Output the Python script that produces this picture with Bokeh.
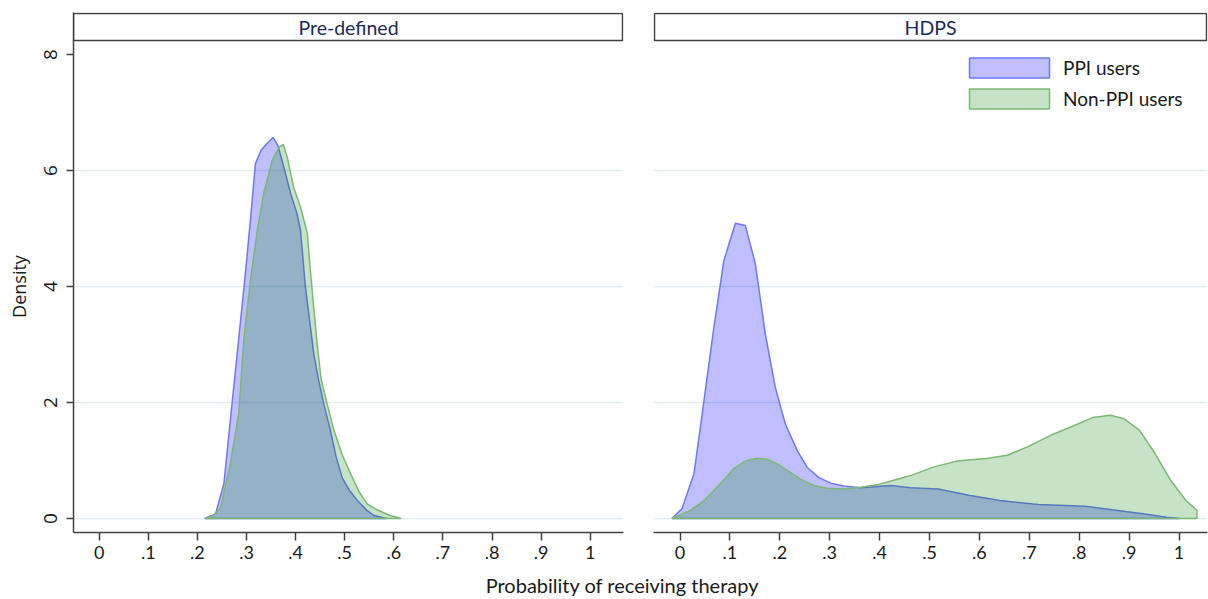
import math
from bokeh.plotting import figure
from bokeh.layouts import row, column
from bokeh.models import FixedTicker, Label, Legend, LegendItem, Range1d
from bokeh.embed import file_html
from bokeh.resources import INLINE

# ---------------- data ----------------
panels = ["Pre-defined", "HDPS"]
series = ["PPI users", "Non-PPI users"]
x_title = "Probability of receiving therapy"
y_title = "Density"
x_ticks = [0, 0.1, 0.2, 0.3, 0.4, 0.5, 0.6, 0.7, 0.8, 0.9, 1]
x_tick_labels = ["0", ".1", ".2", ".3", ".4", ".5", ".6", ".7", ".8", ".9", "1"]
y_ticks = [0, 2, 4, 6, 8]
grid_ticks = [0, 2, 4, 6]

pre_ppi_x = [0.215, 0.237, 0.254, 0.267, 0.281, 0.295, 0.308, 0.318, 0.329, 0.342, 0.354,
             0.364, 0.376, 0.390, 0.403, 0.410, 0.420, 0.437, 0.447, 0.458, 0.471, 0.482,
             0.495, 0.510, 0.527, 0.545, 0.560, 0.585]
pre_ppi_y = [0.0, 0.08, 0.6, 1.69, 2.84, 3.99, 5.14, 6.11, 6.34, 6.47, 6.57,
             6.43, 6.06, 5.6, 5.25, 4.97, 3.99, 2.84, 2.38, 1.95, 1.52, 1.08,
             0.7, 0.48, 0.3, 0.14, 0.05, 0.0]

pre_non_x = [0.216, 0.233, 0.247, 0.267, 0.284, 0.295, 0.308, 0.322, 0.335, 0.352, 0.366,
             0.375, 0.383, 0.396, 0.410, 0.424, 0.430, 0.444, 0.452, 0.465, 0.478, 0.495,
             0.512, 0.530, 0.546, 0.566, 0.590, 0.615]
pre_non_y = [0.0, 0.05, 0.19, 0.94, 1.8, 3.13, 4.10, 4.97, 5.6, 6.17, 6.40,
             6.45, 6.23, 5.71, 5.37, 4.91, 4.28, 3.0, 2.4, 1.95, 1.52, 1.1,
             0.77, 0.45, 0.25, 0.15, 0.06, 0.0]

hdps_ppi_x = [-0.016, 0.004, 0.028, 0.048, 0.068, 0.088, 0.111, 0.131, 0.151, 0.171, 0.191,
              0.211, 0.235, 0.255, 0.278, 0.302, 0.328, 0.362, 0.423, 0.462, 0.517, 0.579,
              0.641, 0.718, 0.812, 0.866, 0.928, 0.975, 1.0]
hdps_ppi_y = [0.0, 0.17, 0.77, 2.03, 3.30, 4.45, 5.09, 5.05, 4.39, 3.18, 2.26,
              1.63, 1.17, 0.88, 0.71, 0.61, 0.56, 0.53, 0.57, 0.53, 0.51, 0.40,
              0.31, 0.24, 0.21, 0.15, 0.08, 0.02, 0.0]

hdps_non_x = [-0.016, 0.021, 0.048, 0.081, 0.108, 0.131, 0.155, 0.175, 0.195, 0.215, 0.241,
              0.268, 0.295, 0.328, 0.362, 0.395, 0.416, 0.462, 0.509, 0.556, 0.618, 0.656,
              0.695, 0.742, 0.789, 0.827, 0.863, 0.890, 0.921, 0.952, 0.983, 1.014, 1.036]
hdps_non_y = [0.0, 0.14, 0.31, 0.60, 0.86, 0.99, 1.04, 1.02, 0.94, 0.83, 0.68,
              0.57, 0.52, 0.51, 0.54, 0.58, 0.63, 0.74, 0.89, 0.99, 1.04, 1.09,
              1.23, 1.43, 1.60, 1.74, 1.78, 1.72, 1.52, 1.12, 0.66, 0.31, 0.14]

panel_data = [
    [(pre_ppi_x, pre_ppi_y), (pre_non_x, pre_non_y)],
    [(hdps_ppi_x, hdps_ppi_y), (hdps_non_x, hdps_non_y)],
]

# ---------------- styles ----------------
FONT = "Lato"
YFONT = "Open Sans"
AXIS_COLOR = "#404040"
GRID_COLOR = "#e0edf0"
HEAD_COLOR = "#1f2a52"
TEXT_COLOR = "#1a1a1a"
fills = [("#0000ff", 0.25, "#6f78f2"), ("#008000", 0.22, "#7cb874")]

# geometry (pixels)
Y0PX, PPY = 518.0, 58.0
FRAME_TOP, FRAME_BOT = 12, 532
H_MAIN = 572
W_YTITLE = 32
geo = [
    # width, border_left, border_right, frame_l, frame_r, x0px, ppu  (absolute px)
    (653 - W_YTITLE, 73 - W_YTITLE, 30, 73, 623, 98.7, 491.0),
    (555, 0, 1, 653, 1207, 679.5, 499.0),
]


def make_panel(idx):
    width, bl, br, fl, fr, x0px, ppu = geo[idx]
    px2x = lambda px: (px - x0px) / ppu
    py2y = lambda py: (Y0PX - py) / PPY
    xr = Range1d(px2x(fl), px2x(fr))
    yr = Range1d(py2y(FRAME_BOT), py2y(FRAME_TOP))
    p = figure(width=width, height=H_MAIN, x_range=xr, y_range=yr,
               output_backend="svg", toolbar_location=None,
               min_border_left=bl, min_border_right=br,
               min_border_top=FRAME_TOP, min_border_bottom=H_MAIN - FRAME_BOT,
               y_axis_location="left" if idx == 0 else None)
    p.outline_line_color = None
    p.background_fill_color = "white"
    p.border_fill_color = "white"

    ax = p.xaxis[0]
    ax.ticker = FixedTicker(ticks=x_ticks)
    ax.major_label_overrides = dict(zip(x_ticks, x_tick_labels))
    ax.axis_line_color = AXIS_COLOR
    ax.axis_line_width = 1.5
    ax.major_tick_line_color = AXIS_COLOR
    ax.major_tick_line_width = 1.5
    ax.major_tick_out = 8
    ax.major_tick_in = 0
    ax.minor_tick_out = 0
    ax.minor_tick_in = 0
    ax.major_label_standoff = 5
    ax.major_label_text_font = FONT
    ax.major_label_text_font_size = "18px"
    ax.major_label_text_color = TEXT_COLOR

    if idx == 0:
        ay = p.yaxis[0]
        ay.ticker = FixedTicker(ticks=y_ticks)
        ay.major_label_orientation = "vertical"
        ay.axis_line_color = AXIS_COLOR
        ay.axis_line_width = 1.5
        ay.major_tick_line_color = AXIS_COLOR
        ay.major_tick_line_width = 1.5
        ay.major_tick_out = 7
        ay.major_tick_in = 0
        ay.minor_tick_out = 0
        ay.minor_tick_in = 0
        ay.major_label_standoff = 10
        ay.major_label_text_font = YFONT
        ay.major_label_text_font_size = "19px"
        ay.major_label_text_color = TEXT_COLOR

    p.xgrid.visible = False
    p.ygrid.ticker = FixedTicker(ticks=grid_ticks)
    p.ygrid.grid_line_color = GRID_COLOR
    p.ygrid.grid_line_width = 1.5

    rends = []
    for (xs, ys), (fc, fa, lc) in zip(panel_data[idx], fills):
        px = list(xs) + [xs[-1], xs[0]]
        py = list(ys) + [0, 0]
        r = p.patch(px, py, fill_color=fc, fill_alpha=fa, line_color=lc, line_width=1.5)
        rends.append(r)

    # header strip
    bx0 = px2x(fl + 1) if idx == 1 else px2x(fl)
    bx1 = px2x(fr - 1)
    p.quad(left=[bx0], right=[bx1], bottom=[py2y(40)], top=[py2y(13)],
           fill_color="white", line_color=AXIS_COLOR, line_width=1.5)
    p.add_layout(Label(x=(xr.start + xr.end) / 2, y=py2y(26.5), text=panels[idx],
                       text_align="center", text_baseline="middle", text_font=FONT,
                       text_font_size="19.5px", text_color=HEAD_COLOR))
    return p, rends


# y-axis title strip
p0 = figure(width=W_YTITLE, height=H_MAIN, x_range=(0, 1), y_range=(0, 1),
            output_backend="svg", toolbar_location=None,
            min_border=0, x_axis_location=None, y_axis_location=None)
p0.outline_line_color = None
p0.xgrid.visible = False
p0.ygrid.visible = False
p0.add_layout(Label(x=18, y=H_MAIN - 292 - 34, x_units="screen", y_units="screen",
                    text=y_title, angle=math.pi / 2, text_align="center",
                    text_baseline="middle", text_font=YFONT,
                    text_font_size="18px", text_color=TEXT_COLOR))

p1, r1 = make_panel(0)
p2, r2 = make_panel(1)

legend = Legend(items=[LegendItem(label=series[i], renderers=[r2[i]]) for i in range(2)],
                location=(306, 421), orientation="vertical",
                glyph_width=100, glyph_height=25, spacing=6, padding=0, margin=0,
                label_standoff=4, label_text_font=FONT, label_text_font_size="19px",
                label_text_color=TEXT_COLOR, border_line_color=None,
                background_fill_alpha=0)
p2.add_layout(legend)

p3 = figure(width=1208, height=599 - H_MAIN, x_range=(0, 1), y_range=(0, 1),
            output_backend="svg", toolbar_location=None,
            min_border=0, x_axis_location=None, y_axis_location=None)
p3.outline_line_color = None
p3.xgrid.visible = False
p3.ygrid.visible = False
p3.add_layout(Label(x=622, y=(599 - H_MAIN) - 12, x_units="screen", y_units="screen",
                    text=x_title, text_align="center", text_baseline="middle",
                    text_font=FONT, text_font_size="20px", text_color=TEXT_COLOR))

layout = column(row(p0, p1, p2), p3)
open("out.html", "w").write(file_html(layout, INLINE))
